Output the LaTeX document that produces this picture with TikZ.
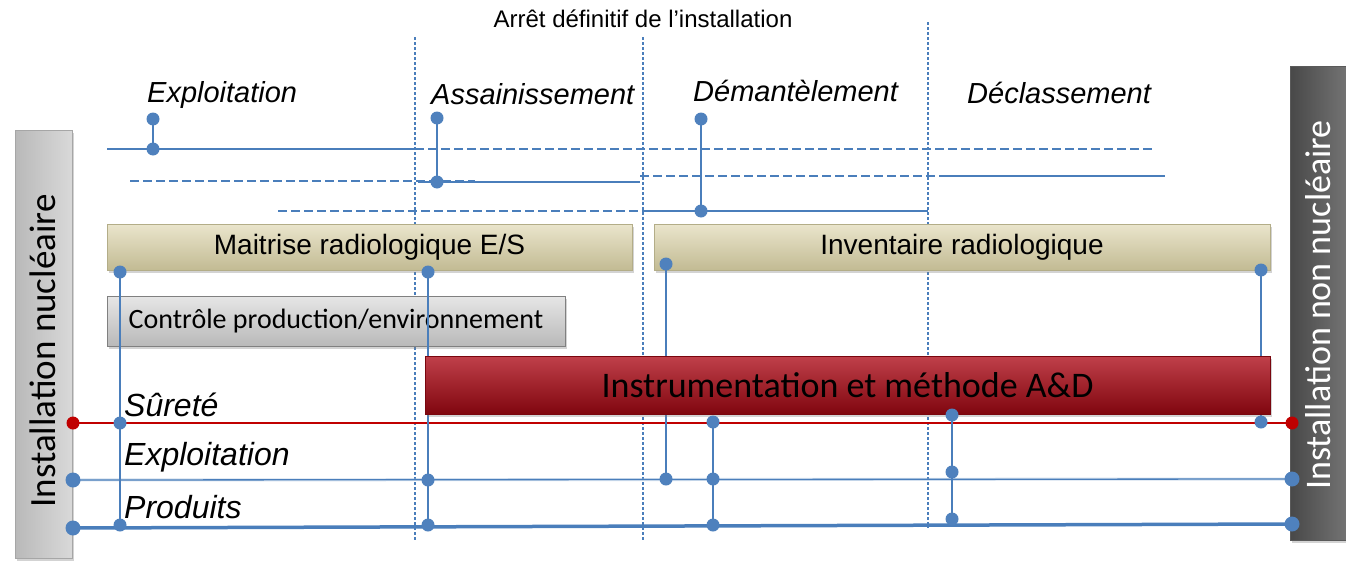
\documentclass[tikz,border=0pt]{standalone}
\usepackage{fontspec}
\setmainfont{Liberation Sans}
\newfontfamily\calib{Carlito}
\usetikzlibrary{shadows}
\definecolor{lb}{HTML}{4A7EBB}
\definecolor{dotc}{HTML}{4F81BD}
\definecolor{redl}{HTML}{C00000}
\definecolor{tanc}{HTML}{D3CBA0}
\definecolor{tanl}{HTML}{EAE5CC}
\definecolor{dred}{HTML}{8E0710}
\definecolor{dredl}{HTML}{C0404A}
\definecolor{lgray}{HTML}{C9C9C9}
\definecolor{lgrayl}{HTML}{E6E6E6}
\definecolor{dgray}{HTML}{5A5A5A}
\begin{document}
\begin{tikzpicture}[x=1pt,y=-1pt,
  dot/.style={circle,fill=dotc,inner sep=0pt,minimum size=13pt},
  bdot/.style={circle,fill=dotc,inner sep=0pt,minimum size=15pt},
  rdot/.style={circle,fill=redl,inner sep=0pt,minimum size=13pt},
  tl/.style={draw=lb,line width=2.5pt},
  tld/.style={draw=lb,line width=2.5pt,dash pattern=on 9pt off 4pt},
  vd/.style={draw=lb,line width=1.1pt,dash pattern=on 3pt off 2pt},
  conn/.style={draw=lb,line width=1.3pt},
  phase/.style={font=\itshape\fontsize{29}{33}\selectfont,anchor=base west,inner sep=0pt},
  rowlab/.style={font=\itshape\fontsize{32}{36}\selectfont,anchor=base west,inner sep=0pt},
  boxshadow/.style={drop shadow={shadow xshift=2pt,shadow yshift=-3pt,opacity=0.35}},
  tanbox/.style={draw=tanc!85!black,line width=0.4pt,top color=tanl,middle color=tanc,bottom color=tanc!92!black,
     minimum height=46pt,inner sep=0pt,boxshadow,font=\fontsize{28}{32}\selectfont},
  graybox/.style={draw=gray,line width=0.4pt,top color=lgrayl,middle color=lgray,bottom color=lgray!92!black,
     minimum height=50pt,inner sep=0pt,boxshadow,font=\calib\fontsize{28}{32}\selectfont},
  redbox/.style={draw=dred!85!black,line width=0.4pt,top color=dredl,middle color=dred,bottom color=dred!90!black,
     minimum height=58pt,inner sep=0pt,boxshadow,font=\calib\fontsize{36}{40}\selectfont},
]
\useasboundingbox (0,0) rectangle (1346,562);

% side bars
\node[draw=gray!70,left color=gray!55,right color=gray!30,minimum width=57pt,minimum height=428pt,
  inner sep=0pt,boxshadow] (lbar) at (43.5,344) {};
\node[rotate=90,font=\calib\fontsize{37}{40}\selectfont] (ltxt) at (43,351) {Installation nucléaire};
\node[draw=dgray,left color=dgray!80!black,right color=dgray!85,minimum width=56pt,minimum height=474pt,
  inner sep=0pt,boxshadow] (rbar) at (1318,303) {};
\node[rotate=90,text=white,font=\calib\fontsize{36}{40}\selectfont] (rtxt) at (1318,305) {Installation non nucléaire};

% title
\node[font=\fontsize{24}{28}\selectfont] (title) at (643,19) {Arrêt définitif de l’installation};

% phases
\node[phase] (p1) at (147,102) {Exploitation};
\node[phase] (p2) at (431,104) {Assainissement};
\node[phase] (p3) at (693,101) {Démantèlement};
\node[phase] (p4) at (967,103) {Déclassement};

% coordinates
\coordinate (v1t) at (415,37); \coordinate (v1b) at (415,540);
\coordinate (v2t) at (643,37); \coordinate (v2b) at (643,540);
\coordinate (v3t) at (928,22); \coordinate (v3b) at (928,528);
\coordinate (e1) at (153,119); \coordinate (e2) at (153,149);
\coordinate (a1) at (437,118); \coordinate (a2) at (437,182);
\coordinate (d1) at (701,119); \coordinate (d2) at (701,211);
\coordinate (l1a) at (107,149); \coordinate (l1b) at (415,149); \coordinate (l1c) at (1155,149);
\coordinate (l2a) at (130,181); \coordinate (l2b) at (475,181);
\coordinate (l2c) at (418,182); \coordinate (l2d) at (640,182);
\coordinate (l2e) at (640,176); \coordinate (l2f) at (990,176);
\coordinate (l2g) at (940,176); \coordinate (l2h) at (1165,176);
\coordinate (l3a) at (278,211); \coordinate (l3b) at (642,211); \coordinate (l3c) at (928,211);
\coordinate (sL) at (73,423); \coordinate (sR) at (1292,423);
\coordinate (xL) at (73,480); \coordinate (xR) at (1292,479);
\coordinate (pL) at (73,528); \coordinate (pR) at (1292,524);
\coordinate (c1t) at (120,272); \coordinate (c1a) at (120,423); \coordinate (c1b) at (120,525);
\coordinate (c2t) at (428,272); \coordinate (c2a) at (428,480); \coordinate (c2b) at (428,525);
\coordinate (c3t) at (666,264); \coordinate (c3a) at (666,479);
\coordinate (c4t) at (713,422); \coordinate (c4a) at (713,479); \coordinate (c4b) at (713,525);
\coordinate (c5t) at (952,415); \coordinate (c5a) at (952,472); \coordinate (c5b) at (952,519);
\coordinate (c6t) at (1261,270); \coordinate (c6a) at (1261,422);

% vertical dashed phase separators
\draw[vd] (v1t) -- (v1b);
\draw[vd] (v2t) -- (v2b);
\draw[vd] (v3t) -- (v3b);

% timelines
\draw[tl] (l1a) -- (l1b);
\draw[tld] (l1b) -- (l1c);
\draw[tld] (l2a) -- (l2b);
\draw[tl] (l2c) -- (l2d);
\draw[tld] (l2e) -- (l2f);
\draw[tl] (l2g) -- (l2h);
\draw[tld] (l3a) -- (l3b);
\draw[tl] (l3b) -- (l3c);
\draw[conn] (e1) -- (e2);
\draw[conn] (a1) -- (a2);
\draw[conn] (d1) -- (d2);

% boxes
\node[tanbox,minimum width=525pt] (mait) at (369.5,247) {Maitrise radiologique E/S};
\node[tanbox,minimum width=616pt] (inv) at (962,247) {Inventaire radiologique};
\node[graybox,minimum width=458pt] (ctrl) at (336,321) {Contrôle production/environnement};

% bottom lines
\draw[draw=redl,line width=1.6pt] (sL) -- (sR);
\draw[draw=lb!60,line width=3pt,opacity=0.4] (xL) -- (xR);
\draw[draw=lb,line width=1.3pt] (xL) -- (xR);
\draw[draw=lb,line width=3.5pt] (pL) -- (pR);

% connectors
\draw[conn] (c1t) -- (c1b);
\draw[conn] (c2t) -- (c2b);
\draw[conn] (c3t) -- (c3a);
\draw[conn] (c4t) -- (c4b);
\draw[conn] (c5t) -- (c5b);
\draw[conn] (c6t) -- (c6a);

\node[redbox,minimum width=845pt] (instr) at (847.5,385) {Instrumentation et méthode A\&D};

% row labels
\node[rowlab] (rs) at (124,416) {Sûreté};
\node[rowlab] (rx) at (124,465) {Exploitation};
\node[rowlab] (rp) at (124,518) {Produits};

% dots
\foreach \p in {e1,e2,a1,a2,d1,d2,c1t,c1a,c1b,c2t,c2a,c2b,c3t,c3a,c4t,c4a,c4b,c5t,c5a,c5b,c6t,c6a}
  \node[dot] at (\p) {};
\foreach \p in {xL,xR,pL,pR}
  \node[bdot] at (\p) {};
\node[rdot] at (sL) {};
\node[rdot] at (sR) {};
\end{tikzpicture}
\end{document}
